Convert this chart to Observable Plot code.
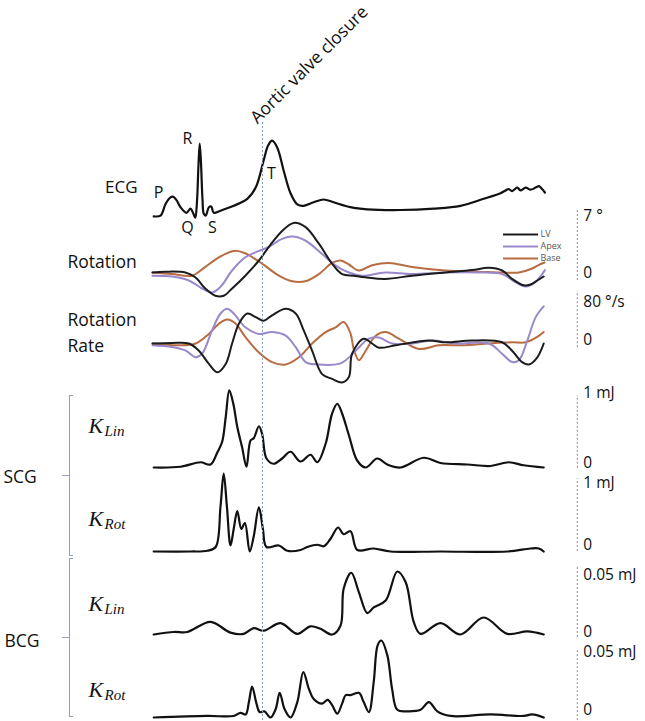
<!DOCTYPE html>
<html><head><meta charset="utf-8">
<script src="https://cdn.jsdelivr.net/npm/d3@7"></script>
<script src="https://cdn.jsdelivr.net/npm/@observablehq/plot@0.6"></script>
<style>
body{margin:0;background:#fff}
#chart{position:relative;width:645px;height:721px;overflow:hidden;background:#fff}
#chart svg{position:absolute;left:0;top:0}
</style>
</head><body><div id="chart"></div>
<script>
// ---- data: [time (ms), value] ----
const ecg = [[3,-0.04],[20,-0.03],[33,0.14],[45,0.23],[52,0.24],[60,0.19],[70,0.09],[85,0.01],[95,0.07],[102,0.0],[107,-0.06],[111,0.15],[115,0.7],[118,1.0],[121,0.75],[125,0.2],[128,0.0],[133,-0.03],[141,0.09],[147,0.10],[153,0.01],[170,0.04],[203,0.11],[237,0.21],[258,0.37],[278,0.76],[289,0.97],[299,1.04],[312,0.94],[328,0.61],[345,0.29],[362,0.13],[378,0.11],[403,0.16],[428,0.20],[453,0.16],[495,0.09],[537,0.06],[620,0.05],[703,0.07],[770,0.11],[828,0.21],[870,0.29],[883,0.33],[890,0.35],[899,0.32],[912,0.37],[920,0.33],[933,0.37],[945,0.34],[958,0.37],[966,0.39],[974,0.35],[981,0.30]];

const rotLV = [[0,0],[32,0.1],[82,0],[107,-0.6],[132,-2.0],[157,-2.9],[178,-2.9],[199,-2.0],[232,-0.4],[266,1.5],[291,3.2],[324,5.2],[353,6.2],[382,5.7],[416,3.6],[449,1.1],[474,-0.2],[503,-0.4],[532,-0.6],[582,-0.8],[649,-0.4],[732,0.0],[799,0.3],[841,0.6],[874,0.25],[899,-0.8],[928,-1.6],[945,-1.5],[962,-1.0],[978,-0.5]];
const rotApex = [[0,-0.4],[49,-0.5],[91,-1.0],[124,-2.0],[149,-2.5],[170,-1.8],[199,0.25],[232,1.9],[266,2.7],[291,3.2],[324,4.2],[349,4.5],[382,4.0],[424,2.3],[457,0.9],[491,0.0],[524,-0.4],[582,0.0],[649,-0.2],[732,0.0],[816,0.0],[874,-0.2],[907,-1.2],[932,-1.75],[957,-1.2],[981,0.3]];
const rotBase = [[0,0],[49,-0.2],[99,-0.4],[132,0.7],[166,1.9],[203,2.7],[232,2.4],[274,1.1],[316,-0.4],[349,-1.1],[382,-1.1],[416,-0.2],[449,1.2],[470,1.5],[491,1.0],[516,0.25],[549,0.9],[591,1.2],[649,0.7],[732,0.25],[816,0.1],[874,0],[916,0],[949,0.5],[964,0.9],[980,1.25]];

const rateLV = [[0,0],[49,1],[91,0],[116,-12],[141,-34],[162,-48],[183,-34],[199,0],[216,33],[237,50],[258,44],[278,38],[299,47],[333,58],[358,50],[378,22],[399,-12],[424,-51],[449,-59],[474,-65],[491,-56],[499,-17],[528,8],[549,0],[566,-7],[608,-3],[691,5],[733,2],[799,5],[874,2],[899,-12],[924,-31],[941,-35],[962,-23],[978,0]];
const rateApex = [[0,-3],[49,-6],[83,-12],[108,-23],[124,-17],[149,22],[170,50],[187,58],[203,50],[232,27],[266,16],[299,19],[333,13],[358,-6],[383,-31],[416,-35],[466,-34],[483,-28],[508,-12],[541,8],[566,10],[599,0],[649,0],[699,5],[758,0],[841,0],[874,-17],[899,-31],[916,-28],[937,5],[958,44],[978,62]];
const rateBase = [[0,0],[66,-3],[108,0],[141,16],[166,33],[187,40],[208,33],[232,11],[266,-15],[299,-31],[333,-35],[366,-23],[399,0],[433,19],[458,27],[478,36],[495,17],[503,-9],[516,-28],[533,-12],[558,13],[583,19],[616,8],[666,-9],[716,-3],[774,-3],[841,0],[899,2],[933,2],[962,11],[978,19]];

const scgLin = [[3,0],[70,0.01],[120,0.07],[145,0.04],[162,0.2],[174,0.34],[183,0.67],[192,1.03],[202,0.85],[212,0.54],[224,0.27],[235,0.01],[245,0.36],[253,0.39],[266,0.55],[274,0.45],[285,0.12],[303,0.05],[324,0.12],[345,0.21],[370,0.08],[395,0.17],[412,0.07],[433,0.32],[449,0.72],[462,0.85],[474,0.72],[491,0.43],[512,0.09],[533,0],[562,0.12],[587,0.04],[620,0],[678,0.13],[720,0.06],[787,0.04],[845,0.02],[891,0.07],[928,0.03],[978,0]];
const scgRot = [[3,0],[95,0],[137,0.01],[158,0.06],[170,0.6],[178,1.04],[186,0.6],[195,0.08],[203,0.3],[212,0.54],[222,0.30],[231,0.38],[243,0.0],[253,0.2],[266,0.59],[276,0.3],[285,0.06],[316,0.08],[337,0.01],[370,0.02],[387,0.06],[412,0.09],[428,0.07],[445,0.17],[464,0.32],[478,0.23],[495,0.27],[512,0.02],[553,0.04],[595,0],[720,0],[887,0],[945,0.04],[966,0.04],[978,0]];

const bcgLin = [[3,0],[53,0.002],[87,0.002],[145,0.010],[195,0.0015],[228,0.0005],[253,0.005],[278,0.003],[320,0.009],[362,0.0005],[395,0.0065],[420,0.0045],[449,0],[470,0.007],[478,0.0365],[497,0.049],[516,0.0335],[537,0.017],[553,0.0215],[583,0.027],[612,0.05],[633,0.0415],[653,0.01],[670,0.0005],[720,0.009],[770,0],[828,0.0135],[887,0.0005],[937,0.0025],[978,0]];
const bcgRot = [[3,0],[137,0.001],[203,0.001],[220,0.003],[233,0.002],[241,0.01],[249,0.02],[260,0.009],[268,0.0035],[280,0.004],[295,0],[308,0.0055],[318,0.016],[330,0.0055],[345,0],[362,0.01],[377,0.0295],[391,0.0185],[403,0.012],[424,0.009],[438,0.0115],[449,0.008],[462,0.0025],[474,0.009],[483,0.0145],[495,0.0145],[516,0.016],[528,0.01],[541,0.0035],[553,0.023],[563,0.047],[572,0.05],[587,0.0405],[599,0.0185],[612,0.005],[637,0.004],[670,0.005],[691,0.01],[712,0.004],[745,0.001],[845,0.002],[928,0.001],[949,0.002],[978,0]];

const AVC_T = 275; // aortic valve closure time (ms)
const seriesNames = ["LV","Apex","Base"];
const seriesColors = ["#1c1c1c","#9a88cc","#b86c42"];

// ---- layout ----
const T_DOMAIN = [0, 980], T_RANGE = [152, 544];
const SCALE_T = 1062;
const FONT = "'Open Sans', sans-serif";

const panels = [
  {series:[{data:ecg,color:"#111",w:2.2}], y:{domain:[0,1],range:[213,143]}},
  {series:[{data:rotBase,color:seriesColors[2]},{data:rotApex,color:seriesColors[1]},{data:rotLV,color:seriesColors[0]}],
   y:{domain:[0,7],range:[272,216]}, bar:[-1,7.75], ticks:[{v:7,label:"7 °",dy:0},{v:0,label:"0",dy:1}]},
  {series:[{data:rateBase,color:seriesColors[2]},{data:rateApex,color:seriesColors[1]},{data:rateLV,color:seriesColors[0]}],
   y:{domain:[0,80],range:[343,295]}, bar:[-7,87], ticks:[{v:80,label:"80 °/s",dy:7},{v:0,label:"0",dy:-3}]},
  {series:[{data:scgLin,color:"#111",w:2.2}], y:{domain:[0,1],range:[467,392]}, bar:[-0.01,0.96], ticks:[{v:1,label:"1 mJ",dy:1},{v:0,label:"0",dy:-4}]},
  {series:[{data:scgRot,color:"#111",w:2.2}], y:{domain:[0,1],range:[551,476]}, bar:[0,0.97], ticks:[{v:1,label:"1 mJ",dy:7},{v:0,label:"0",dy:-6}]},
  {series:[{data:bcgLin,color:"#111",w:2.2}], y:{domain:[0,0.05],range:[634,571]}, bar:[-0.0024,0.0548], ticks:[{v:0.05,label:"0.05 mJ",dy:4},{v:0,label:"0",dy:-2}]},
  {series:[{data:bcgRot,color:"#111",w:2.2}], y:{domain:[0,0.05],range:[717,640]}, bar:[-0.002,0.0448], ticks:[{v:0.05,label:"0.05 mJ",dy:12},{v:0,label:"0",dy:-7}]}
];

const leftLabels = [
  {text:"ECG", x:137, y:187, anchor:"end"},
  {text:"Rotation", x:67, y:262, anchor:"start"},
  {text:"Rotation", x:67, y:320, anchor:"start"},
  {text:"Rate", x:67, y:346, anchor:"start"},
  {text:"SCG", x:3, y:477, anchor:"start"},
  {text:"BCG", x:4, y:641, anchor:"start"}
];
const waveLabels = [{text:"P",x:158,y:192},{text:"R",x:187,y:138},{text:"Q",x:187,y:227},{text:"S",x:212,y:227},{text:"T",x:271,y:173}];
const kLabels = [{sub:"Lin",y:425},{sub:"Rot",y:518},{sub:"Lin",y:603},{sub:"Rot",y:689}];
const brackets = [{y1:395,y2:555},{y1:558,y2:716}];

const chart = document.getElementById("chart");
const common = {width:645, height:721, marginTop:0, marginBottom:0, marginLeft:0, marginRight:0,
  style:{background:"transparent", overflow:"visible", fontFamily:FONT}};

for (const p of panels) {
  const marks = [];
  if (p.bar) {
    marks.push(Plot.ruleX([SCALE_T], {y1:p.bar[0], y2:p.bar[1], stroke:"#8c8c8c", strokeWidth:1, strokeDasharray:"2,2"}));
    for (const t of p.ticks) {
      marks.push(Plot.text([t], {x:() => SCALE_T, y:"v", text:"label", dx:6, dy:t.dy, textAnchor:"start", fontSize:15.5, fill:"#111", fontFamily:FONT}));
    }
  }
  for (const s of p.series) {
    marks.push(Plot.line(s.data, {x:d=>d[0], y:d=>d[1], stroke:s.color, strokeWidth:s.w||2, curve:"catmull-rom"}));
  }
  chart.append(Plot.plot({...common,
    x:{domain:T_DOMAIN, range:T_RANGE, axis:null},
    y:{domain:p.y.domain, range:p.y.range, axis:null},
    marks}));
}

// overlay for annotations
const tx = d3.scaleLinear(T_DOMAIN, T_RANGE);
const legendRows = seriesNames.map((n,i)=>({name:n, color:seriesColors[i], y:234+i*12}));
const overlayMarks = [
  Plot.ruleX([tx(AVC_T)], {y1:122, y2:721, stroke:"#8b9bb3", strokeWidth:1, strokeDasharray:"2,2"}),
  Plot.text(["Aortic valve closure"], {x:()=>tx(AVC_T)-5, y:()=>124, rotate:-45, textAnchor:"start", lineAnchor:"bottom", fontSize:17.5, fill:"#111", fontFamily:FONT}),
  Plot.text(leftLabels.filter(d=>d.anchor==="end"), {x:"x", y:"y", text:"text", textAnchor:"end", fontSize:17, fill:"#111", fontFamily:FONT}),
  Plot.text(leftLabels.filter(d=>d.anchor==="start"), {x:"x", y:"y", text:"text", textAnchor:"start", fontSize:17.5, fill:"#111", fontFamily:FONT}),
  Plot.text(waveLabels, {x:"x", y:"y", text:"text", fontSize:16, fill:"#111", fontFamily:FONT}),
  Plot.text(kLabels, {x:()=>88, y:"y", text:()=>"K", textAnchor:"start", fontSize:22, fontStyle:"italic", fontFamily:"'Liberation Serif', serif", fill:"#111"}),
  Plot.text(kLabels, {x:()=>104, y:"y", text:"sub", dy:6, textAnchor:"start", fontSize:15, fontStyle:"italic", fontFamily:"'Liberation Serif', serif", fill:"#111"}),
  Plot.ruleX(brackets, {x:()=>69, y1:"y1", y2:"y2", stroke:"#8fa0b8", strokeWidth:1}),
  Plot.ruleY(brackets, {y:"y1", x1:()=>69, x2:()=>73, stroke:"#8fa0b8", strokeWidth:1}),
  Plot.ruleY(brackets, {y:"y2", x1:()=>69, x2:()=>73, stroke:"#8fa0b8", strokeWidth:1}),
  Plot.ruleY(brackets, {y:d=>(d.y1+d.y2)/2, x1:()=>62, x2:()=>69, stroke:"#8fa0b8", strokeWidth:1}),
  Plot.ruleY(legendRows, {y:"y", x1:()=>503, x2:()=>538, stroke:"color", strokeWidth:2}),
  Plot.text(legendRows, {x:()=>540, y:"y", text:"name", textAnchor:"start", fontSize:9, fill:"#555", fontFamily:FONT})
];
chart.append(Plot.plot({...common,
  x:{domain:[0,645], range:[0,645], axis:null},
  y:{domain:[0,721], range:[0,721], axis:null},
  marks: overlayMarks}));
</script></body></html>
